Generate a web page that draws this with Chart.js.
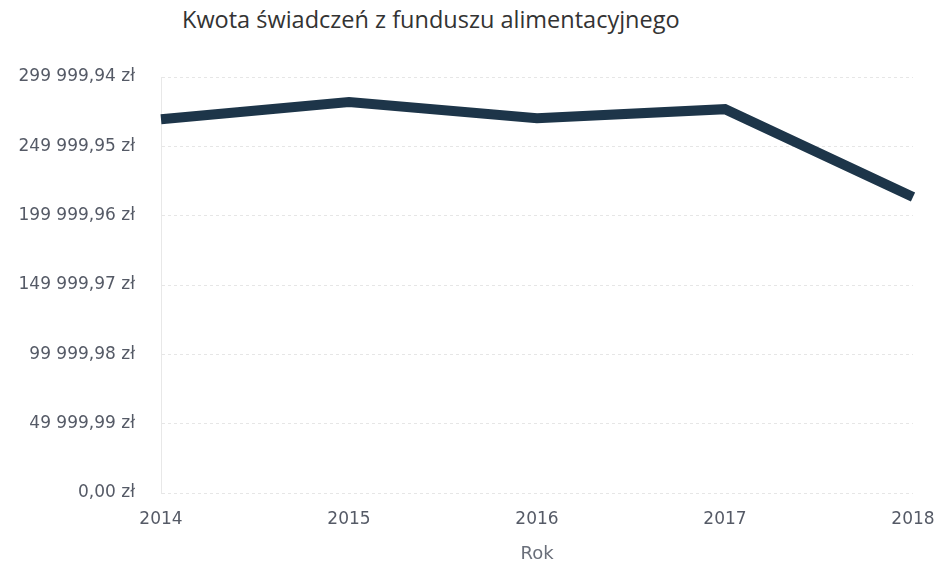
<!DOCTYPE html>
<html lang="pl">
<head>
<meta charset="utf-8">
<script src="https://cdn.jsdelivr.net/npm/chart.js@4/dist/chart.umd.min.js"></script>
<style>
  html, body { margin: 0; padding: 0; background: #fff; }
  #wrap { position: relative; width: 939px; height: 569px; }
  #title {
    position: absolute; left: 182px; top: 3px;
    font-family: "Open Sans", sans-serif; font-size: 23.5px; color: #333;
    white-space: nowrap;
  }
  canvas { position: absolute; left: 0; top: 0; }
</style>
</head>
<body>
<div id="wrap">
  <div id="title">Kwota świadczeń z funduszu alimentacyjnego</div>
  <canvas id="kwotaChart" width="939" height="569"></canvas>
</div>
<script>
const years = ["2014", "2015", "2016", "2017", "2018"];
const kwota = [269600, 281900, 270300, 276800, 213500];
const yTicks = [0, 49999.99, 99999.98, 149999.97, 199999.96, 249999.95, 299999.94];

document.addEventListener("DOMContentLoaded", () => {
  renderKwotaChart();
});

function formatZl(v) {
  const parts = Number(v).toFixed(2).split(".");
  const whole = parts[0].replace(/\B(?=(\d{3})+(?!\d))/g, " ");
  return whole + "," + parts[1] + " zł";
}

function renderKwotaChart() {
  const ctx = document.getElementById("kwotaChart");
  if (!ctx) return;

  const tickFont = { family: "DejaVu Sans", size: 17 };

  new Chart(ctx, {
    type: "line",
    data: {
      labels: years,
      datasets: [{
        label: "Kwota",
        data: kwota,
        borderColor: "#1d3549",
        borderWidth: 10,
        borderJoinStyle: "miter",
        fill: false,
        tension: 0,
        pointRadius: 0,
      }],
    },
    options: {
      responsive: false,
      animation: false,
      layout: { padding: { top: 77, right: 26, left: 0, bottom: 4 } },
      plugins: {
        legend: { display: false },
        tooltip: { enabled: false },
      },
      scales: {
        x: {
          offset: false,
          afterFit: (axis) => {
            axis.paddingRight = 0;
            axis.paddingLeft = 0;
          },
          grid: { display: false },
          border: { display: false },
          ticks: { color: "#555a66", font: tickFont, padding: 8, maxRotation: 0 },
          title: {
            display: true,
            text: "Rok",
            color: "#6a6f7a",
            font: { family: "DejaVu Sans", size: 18 },
            padding: { top: 6, bottom: 0 },
          },
        },
        y: {
          min: 0,
          max: yTicks[yTicks.length - 1],
          afterBuildTicks: (axis) => {
            axis.ticks = yTicks.map((v) => ({ value: v }));
          },
          afterFit: (axis) => {
            axis.width = 161;
          },
          grid: {
            color: "#e6e6e6",
            drawTicks: false,
          },
          border: { display: true, color: "#e8e8e8", dash: [3, 3] },
          ticks: {
            color: "#555a66",
            font: tickFont,
            padding: 26,
            callback: (v) => formatZl(v),
          },
        },
      },
    },
  });
}
</script>
</body>
</html>
